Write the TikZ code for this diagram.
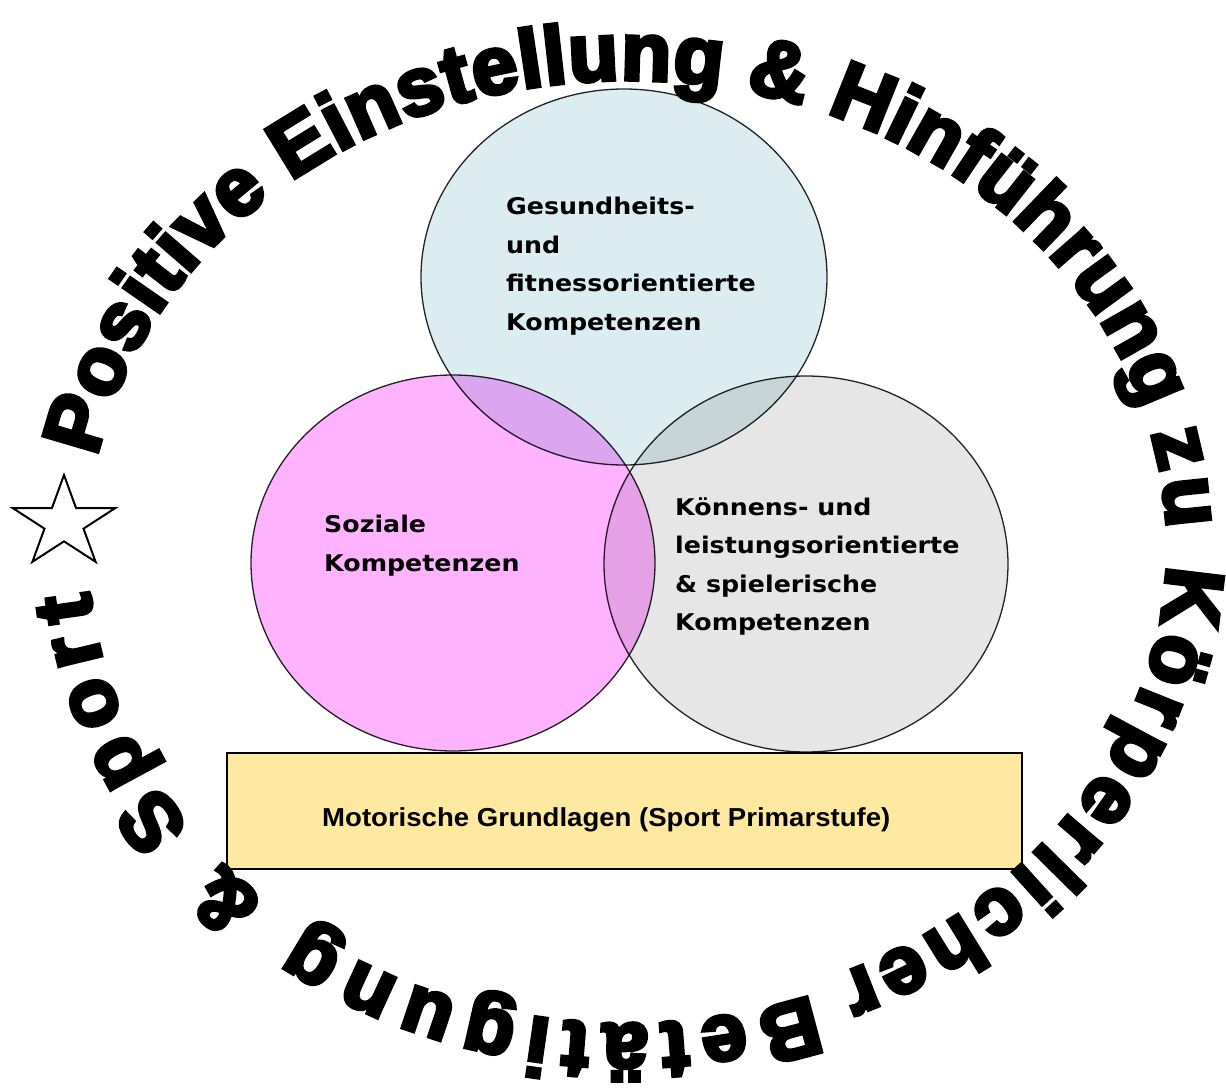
\documentclass[tikz,border=0pt]{standalone}
\usepackage{fontspec}
\usepackage{tikz}
\usetikzlibrary{decorations.text,shapes.geometric}

\newfontfamily\ringfont[FakeBold=5]{Liberation Sans Bold}
\newfontfamily\vennfont[FakeStretch=1.1]{DejaVu Sans Bold}
\newfontfamily\basefont[FakeStretch=1.06]{Liberation Sans Bold}

\definecolor{sozialpink}{RGB}{255,179,255}
\definecolor{gesundblue}{RGB}{219,237,240}
\definecolor{koennengrey}{RGB}{230,230,230}
\definecolor{grundgelb}{RGB}{255,233,160}

\tikzset{
  venn/.style={draw=black!85, line width=1.3pt},
  vennlabel/.style={anchor=north west, align=left, inner sep=0pt,
    font=\vennfont\fontsize{23}{38.5}\selectfont},
  ringtext/.style={decorate, decoration={text along path, text align=fit to path,
    text={|\ringfont\fontsize{82}{90}\selectfont|#1}}},
}

\begin{document}
\begin{tikzpicture}[x=1pt,y=-1pt]
 \useasboundingbox (0,0) rectangle (1226,1089);
 % die drei Kompetenzbereiche
 \begin{scope}[blend group=multiply]
  \draw [venn, fill = sozialpink] (453,563) ellipse [x radius = 202, y radius = 188];
  \draw [venn, fill = koennengrey] (806,564) ellipse [x radius = 202, y radius = 188];
  \draw [venn, fill = gesundblue] (624,277) ellipse [x radius = 203, y radius = 188];
 \end{scope}
 \node[vennlabel] (gesund) at (506,197) {Gesundheits-\\und\\fitnessorientierte\\Kompetenzen};
 \node[vennlabel] (sozial) at (324,515) {Soziale\\Kompetenzen};
 \node[vennlabel] (koennen) at (675,497) {Könnens- und\\leistungsorientierte\\\& spielerische\\Kompetenzen};
 % Grundlagen
 \node[draw, line width = 1.5pt, fill = grundgelb, minimum width = 795pt, minimum height = 116pt, inner sep = 0pt] (grundlagen) at (624.5,811) {};
 \node[anchor = base west, inner sep = 0pt, font = \basefont\fontsize{26}{30}\selectfont] (grundtext) at (322,826) {Motorische Grundlagen (Sport Primarstufe)};
 % Schrift im Kreis (Mitte 627/546)
 \path [ringtext = {Positive Einstellung {\&} Hinführung}]
   (96.9,457.1) arc [start angle = 191, end angle = 343, x radius = 540, y radius = 466];
 \path [ringtext = {zu Körperlicher}]
   (1151.0,433.3) arc [start angle = 346, end angle = 427, x radius = 540, y radius = 466];
 \path [ringtext = {Betätigung {\&} Sport}]
   (811.7,995.2) arc [start angle = 430, end angle = 534.5, x radius = 540, y radius = 478];
 \node[draw, star, star points = 5, star point ratio = 2.618, minimum size = 96pt, inner sep = 0pt, line width = 2pt, xscale = 1.12] (stern) at (64,523) {};
\end{tikzpicture}
\end{document}
